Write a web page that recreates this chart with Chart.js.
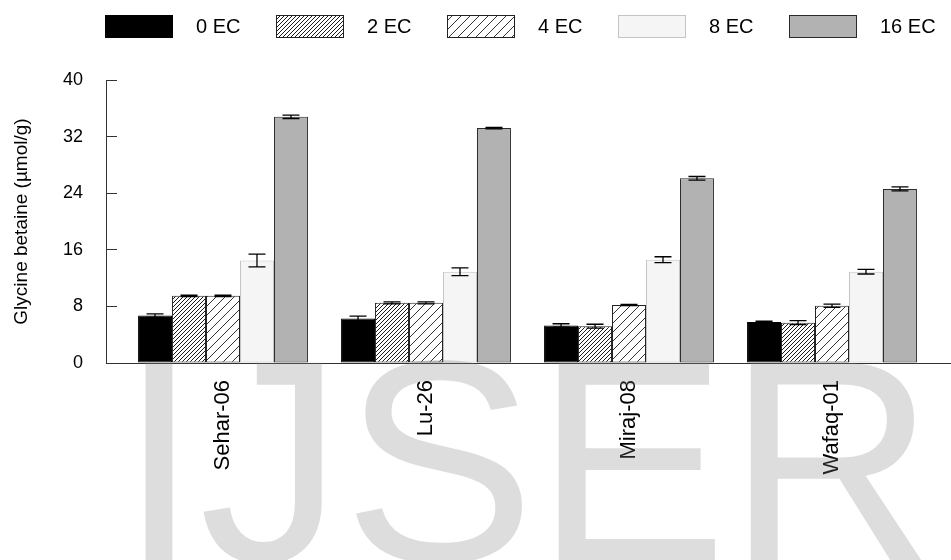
<!DOCTYPE html>
<html>
<head>
<meta charset="utf-8">
<title>Glycine betaine</title>
<script src="https://cdn.jsdelivr.net/npm/chart.js@4/dist/chart.umd.min.js"></script>
<style>
  html, body { margin: 0; padding: 0; background: #ffffff; }
  #wrap { position: relative; width: 951px; height: 560px; }
</style>
</head>
<body>
<div id="wrap"><canvas id="chart"></canvas></div>
<script>
// Cultivars on the x axis
const categories = ['Sehar-06', 'Lu-26', 'Miraj-08', 'Wafaq-01'];

// Salinity treatments (legend labels)
const seriesNames = ['0 EC', '2 EC', '4 EC', '8 EC', '16 EC'];

// Glycine betaine (µmol/g) per cultivar, one array per treatment
const gb0 = [6.7, 6.3, 5.3, 5.8];
const gb2 = [9.5, 8.5, 5.2, 5.7];
const gb4 = [9.5, 8.5, 8.2, 8.1];
const gb8 = [14.5, 12.9, 14.6, 12.9];
const gb16 = [34.8, 33.2, 26.1, 24.6];

// Standard errors for the same bars
const se0 = [0.25, 0.33, 0.25, 0.1];
const se2 = [0.1, 0.15, 0.28, 0.28];
const se4 = [0.1, 0.15, 0.1, 0.23];
const se8 = [0.9, 0.55, 0.42, 0.32];
const se16 = [0.24, 0.1, 0.26, 0.28];

// Value axis
const yMin = 0;
const yMax = 40;
const yStep = 8;
const yTitle = 'Glycine betaine (µmol/g)';

const FONT = "'Liberation Sans', Arial, sans-serif";

// Diagonal hatch fills
function hatch(size, color, width) {
  const c = document.createElement('canvas');
  c.width = size; c.height = size;
  const g = c.getContext('2d');
  g.fillStyle = '#ffffff';
  g.fillRect(0, 0, size, size);
  g.strokeStyle = color;
  g.lineWidth = width;
  g.beginPath();
  g.moveTo(0, size); g.lineTo(size, 0);
  g.moveTo(-1, 1); g.lineTo(1, -1);
  g.moveTo(size - 1, size + 1); g.lineTo(size + 1, size - 1);
  g.stroke();
  return document.getElementById('chart').getContext('2d').createPattern(c, 'repeat');
}

const values = [gb0, gb2, gb4, gb8, gb16];
const errors = [se0, se2, se4, se8, se16];
const fills = ['#000000', hatch(4, '#1a1a1a', 1), hatch(9, '#333333', 1), '#f5f5f5', '#b2b2b2'];
const strokes = ['#000000', '#222222', '#222222', '#c4c4c4', '#2a2a2a'];

const datasets = seriesNames.map((name, s) => ({
  label: name,
  data: values[s].map((v, i) => ({ x: i, y: v })),
  errors: errors[s],
  backgroundColor: fills[s],
  borderColor: strokes[s],
  borderWidth: 1,
  borderSkipped: false,
  categoryPercentage: 0.837,
  barPercentage: 1.0
}));

// Error bars with caps, drawn from each bar's value ± its error
const errorBars = {
  id: 'errorBars',
  afterDatasetsDraw(chart) {
    const ctx = chart.ctx;
    const y = chart.scales.y;
    ctx.save();
    ctx.strokeStyle = '#000000';
    ctx.lineWidth = 1.3;
    chart.data.datasets.forEach((ds, d) => {
      const meta = chart.getDatasetMeta(d);
      meta.data.forEach((bar, i) => {
        const v = ds.data[i].y, e = ds.errors[i];
        const top = y.getPixelForValue(v + e);
        const bot = y.getPixelForValue(v - e);
        const half = bar.width / 4;
        ctx.beginPath();
        ctx.moveTo(bar.x, top); ctx.lineTo(bar.x, bot);
        ctx.moveTo(bar.x - half, top); ctx.lineTo(bar.x + half, top);
        ctx.moveTo(bar.x - half, bot); ctx.lineTo(bar.x + half, bot);
        ctx.stroke();
      });
    });
    ctx.restore();
  }
};

// Row of legend swatches across the top of the plot
const topLegend = {
  id: 'topLegend',
  afterDraw(chart) {
    const ctx = chart.ctx;
    const left = chart.chartArea.left - 1;
    const step = 171, bw = 68, bh = 23, top = 15;
    ctx.save();
    ctx.font = '20px ' + FONT;
    ctx.textBaseline = 'middle';
    ctx.textAlign = 'left';
    chart.data.datasets.forEach((ds, d) => {
      const x = left + d * step;
      ctx.fillStyle = ds.backgroundColor;
      ctx.fillRect(x, top, bw, bh);
      ctx.strokeStyle = ds.borderColor;
      ctx.lineWidth = 1;
      ctx.strokeRect(x + 0.5, top + 0.5, bw - 1, bh - 1);
      ctx.fillStyle = '#000000';
      ctx.fillText(ds.label, x + bw + 23, top + bh / 2 + 1);
    });
    ctx.restore();
  }
};

// Journal mark laid over the lower part of the figure
const journalMark = {
  id: 'journalMark',
  afterDraw(chart) {
    const ctx = chart.ctx;
    ctx.save();
    ctx.font = '288px ' + FONT;
    ctx.textBaseline = 'alphabetic';
    ctx.textAlign = 'left';
    ctx.fillStyle = 'rgba(128,128,128,0.27)';
    ctx.fillText('IJSER', 119, chart.height + 1);
    ctx.restore();
  }
};

new Chart(document.getElementById('chart'), {
  type: 'bar',
  data: { datasets },
  plugins: [errorBars, topLegend, journalMark],
  options: {
    responsive: true,
    maintainAspectRatio: false,
    animation: false,
    layout: { padding: { top: 80, right: 0, bottom: 0, left: 0 } },
    plugins: {
      legend: { display: false },
      tooltip: { enabled: false }
    },
    scales: {
      x: {
        type: 'linear',
        min: -0.5764,
        max: 3.5862,
        offset: false,
        grid: { display: false, drawTicks: false },
        border: { display: true, color: '#333333', width: 1 },
        afterBuildTicks: (scale) => {
          scale.ticks = categories.map((_, i) => ({ value: i }));
        },
        afterFit: (scale) => { scale.height = 197; },
        ticks: {
          autoSkip: false,
          minRotation: 90,
          maxRotation: 90,
          padding: 17,
          color: '#000000',
          font: { family: FONT, size: 22 },
          callback: (v) => categories[v] ?? ''
        }
      },
      y: {
        min: yMin,
        max: yMax,
        grid: {
          display: true,
          drawOnChartArea: false,
          drawTicks: true,
          tickLength: -11,
          color: '#333333',
          tickColor: '#333333',
          lineWidth: 1
        },
        border: { display: true, color: '#333333', width: 1 },
        afterFit: (scale) => { scale.width = 106; },
        ticks: {
          stepSize: yStep,
          padding: 34,
          color: '#000000',
          font: { family: FONT, size: 18 }
        },
        title: {
          display: true,
          text: yTitle,
          color: '#000000',
          font: { family: FONT, size: 19 },
          padding: { top: 10, bottom: 0 }
        }
      }
    }
  }
});
</script>
</body>
</html>
